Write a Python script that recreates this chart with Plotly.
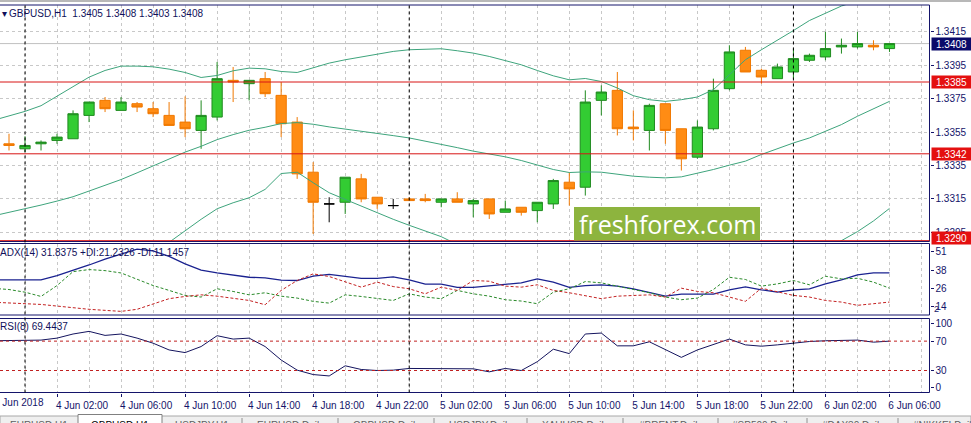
import plotly.graph_objects as go
import pandas as pd

W, H = 971, 423

# hourly bars, GBPUSD H1, 3 Jun 22:00 .. 6 Jun 06:00 (indicators), bars from 23:00
times = pd.date_range("2018-06-03 22:00", periods=57, freq="h")
bar_times = times[1:]

opens = [1.3348, 1.3345, 1.3348, 1.3350, 1.3351, 1.3365, 1.3374, 1.3368, 1.3372, 1.3369,
         1.3365, 1.3361, 1.3356, 1.3364, 1.3386, 1.3384, 1.3387, 1.3377, 1.3361, 1.3331,
         1.3312, 1.3313, 1.3327, 1.3316, 1.3311, 1.3315, 1.3315, 1.3313, 1.3315, 1.3312,
         1.3315, 1.3307, 1.3310, 1.3308, 1.3312, 1.3325, 1.3322, 1.3374, 1.3380, 1.3358,
         1.3356, 1.3372, 1.3357, 1.3340, 1.3357, 1.3381, 1.3404, 1.3392, 1.3387, 1.3391,
         1.3398, 1.3400, 1.3406, 1.3406, 1.3407, 1.3405]
highs = [1.3354, 1.33525, 1.3350, 1.3354, 1.3368, 1.3373, 1.3376, 1.3376, 1.3373, 1.3373,
         1.3373, 1.33764, 1.3374, 1.3397, 1.3394, 1.3386, 1.3391, 1.3385, 1.3364, 1.3337,
         1.3316, 1.3328, 1.3330, 1.3316, 1.3315, 1.3316, 1.3318, 1.3315, 1.3319, 1.3315,
         1.3315, 1.3314, 1.3310, 1.3313, 1.3327, 1.3331, 1.3380, 1.3383, 1.3391, 1.3368,
         1.3372, 1.3372, 1.3357, 1.3362, 1.3387, 1.3407, 1.3406, 1.3393, 1.3396, 1.3405,
         1.3402, 1.3415, 1.3411, 1.3415, 1.3410, 1.3408]
lows = [1.3344, 1.3343, 1.3344, 1.3348, 1.3351, 1.3361, 1.3367, 1.3368, 1.3367, 1.3364,
        1.3359, 1.3352, 1.3345, 1.3362, 1.3373, 1.3374, 1.3376, 1.3352, 1.3327, 1.3294,
        1.3301, 1.3306, 1.3313, 1.3309, 1.3309, 1.3314, 1.3313, 1.3310, 1.3313, 1.3304,
        1.3303, 1.3307, 1.3305, 1.3301, 1.3309, 1.3311, 1.3317, 1.3365, 1.3353, 1.3350,
        1.3344, 1.3348, 1.3332, 1.3339, 1.3356, 1.3380, 1.3391, 1.3384, 1.3387, 1.3387,
        1.3397, 1.3398, 1.3402, 1.3405, 1.3404, 1.3403]
closes = [1.3347, 1.3347, 1.3349, 1.3352, 1.3366, 1.3373, 1.3369, 1.3373, 1.3370, 1.3366,
          1.3359, 1.3357, 1.3365, 1.3387, 1.3385, 1.3386, 1.3378, 1.3360, 1.3330, 1.3313,
          1.3312, 1.3328, 1.3315, 1.3312, 1.3311, 1.3314, 1.3314, 1.3315, 1.3313, 1.3314,
          1.3306, 1.3309, 1.3307, 1.3313, 1.3326, 1.3321, 1.3373, 1.3379, 1.3357, 1.3357,
          1.3371, 1.3356, 1.3339, 1.3358, 1.3380, 1.3403, 1.3391, 1.3388, 1.3394, 1.3399,
          1.3401, 1.3405, 1.3407, 1.3408, 1.3406, 1.3408]

bb_upper = [1.3362, 1.33645, 1.33674, 1.33708, 1.33764, 1.3382, 1.33879, 1.33919, 1.33945, 1.33945,
            1.33941, 1.33927, 1.33907, 1.33877, 1.33889, 1.33917, 1.33933, 1.33929, 1.33913, 1.33907,
            1.33933, 1.33963, 1.33983, 1.33999, 1.34019, 1.34033, 1.34043, 1.34047, 1.34049, 1.34037,
            1.34023, 1.34003, 1.33977, 1.33953, 1.33919, 1.33887, 1.33863, 1.33871, 1.33853, 1.33814,
            1.33768, 1.33744, 1.33734, 1.33744, 1.3376, 1.33804, 1.33893, 1.33983, 1.34043, 1.34098,
            1.34158, 1.34218, 1.34261, 1.34305, 1.34336, 1.34358, 1.34375]
bb_mid = [1.33048, 1.33069, 1.33091, 1.33113, 1.33137, 1.33163, 1.33197, 1.33231, 1.33266, 1.33306,
          1.33346, 1.3339, 1.3343, 1.33465, 1.33505, 1.33535, 1.33561, 1.33579, 1.33601, 1.33607,
          1.33597, 1.33581, 1.33569, 1.33555, 1.33543, 1.33529, 1.33515, 1.33497, 1.33477, 1.33457,
          1.33436, 1.3342, 1.33402, 1.3338, 1.33352, 1.33326, 1.33308, 1.33312, 1.3331, 1.33296,
          1.33286, 1.3328, 1.33276, 1.33282, 1.33302, 1.33326, 1.33352, 1.33376, 1.33416, 1.33451,
          1.33485, 1.33515, 1.33555, 1.33595, 1.33645, 1.33688, 1.33734]
bb_lower = [1.3248, 1.32493, 1.32508, 1.32518, 1.3251, 1.32506, 1.32515, 1.32543, 1.32587, 1.32667,
            1.32751, 1.3289, 1.3296, 1.33028, 1.33091, 1.33127, 1.33157, 1.33207, 1.33302, 1.3331,
            1.33247, 1.33187, 1.33147, 1.33107, 1.33067, 1.33028, 1.32992, 1.32958, 1.32924, 1.32877,
            1.32849, 1.32837, 1.32827, 1.32807, 1.32785, 1.32765, 1.32753, 1.32753, 1.32767, 1.32778,
            1.32804, 1.32816, 1.32818, 1.3282, 1.32844, 1.32848, 1.32811, 1.32769, 1.32789, 1.32804,
            1.32812, 1.32812, 1.32849, 1.3290, 1.32954, 1.33018, 1.33093]

adx = [31.7, 31.7, 31.7, 31.7, 34.6, 38.0, 41.8, 45.8, 49.2, 52.6,
       51.4, 47.6, 42.5, 38.4, 36.4, 34.9, 33.5, 33.1, 31.5, 31.3,
       34.2, 35.5, 34.4, 32.8, 32.8, 33.7, 31.7, 28.8, 28.8, 26.6,
       26.6, 27.5, 28.4, 29.7, 32.4, 30.2, 26.6, 27.9, 28.4, 27.5,
       25.7, 23.4, 20.7, 22.1, 22.1, 22.1, 25.0, 27.0, 25.0, 23.4,
       25.0, 25.7, 29.0, 31.7, 35.1, 36.4, 36.4]
plus_di = [26.0, 25.2, 23.4, 20.5, 27.9, 37.3, 38.7, 38.0, 36.4, 32.4,
           27.9, 24.6, 21.2, 20.1, 25.7, 23.9, 21.6, 23.0, 20.7, 19.4,
           17.2, 16.0, 21.6, 20.5, 19.4, 17.8, 22.3, 20.1, 19.0, 24.6,
           22.3, 20.7, 18.3, 17.4, 15.6, 23.4, 25.7, 30.6, 29.7, 27.5,
           25.2, 23.0, 20.1, 18.3, 19.4, 25.2, 33.5, 32.0, 27.5, 29.0,
           31.3, 28.4, 34.2, 32.4, 32.8, 30.2, 26.1]
minus_di = [16.6, 16.3, 15.6, 15.1, 14.0, 12.7, 11.8, 11.1, 10.4, 11.8,
            15.6, 19.0, 20.5, 21.6, 20.7, 19.4, 17.8, 14.9, 24.6, 31.3,
            35.8, 34.0, 30.6, 26.8, 30.2, 27.2, 25.7, 22.3, 26.8, 24.6,
            31.3, 30.8, 27.5, 26.8, 28.4, 24.6, 23.0, 21.2, 19.0, 20.7,
            21.2, 21.6, 20.1, 26.1, 23.9, 23.0, 20.1, 17.2, 26.1, 23.4,
            21.2, 20.1, 17.8, 16.7, 14.5, 15.6, 16.7]
rsi = [70.5, 70.5, 70.5, 71.4, 74.1, 79.7, 83.3, 77.8, 79.7, 74.1,
       67.2, 58.0, 54.4, 62.6, 77.4, 72.8, 74.1, 62.6, 44.3, 30.5,
       24.5, 22.6, 36.4, 31.4, 30.0, 30.5, 32.8, 32.8, 32.8, 32.8,
       32.3, 28.2, 32.8, 30.0, 42.0, 59.0, 53.0, 79.7, 81.0, 63.6,
       63.6, 69.1, 58.0, 47.9, 58.0, 64.9, 72.8, 64.9, 63.1, 64.9,
       67.2, 69.5, 70.5, 70.5, 71.4, 68.6, 70.0]

price_ticks = [1.3415, 1.3395, 1.3375, 1.3355, 1.3335, 1.3315, 1.3295]
adx_ticks = [51, 38, 26, 14]
rsi_ticks = [93.4, 70, 30, 7.4]
rsi_ticktext = ["100", "70", "30", "0"]
red_levels = [1.3385, 1.3342, 1.3290]
bid = 1.3408
day_starts = ["2018-06-04", "2018-06-05", "2018-06-06"]
tabs = ["EURUSD,H1", "GBPUSD,H1", "USDJPY,H1", "EURUSD,Daily", "GBPUSD,Daily", "USDJPY,Daily",
        "XAUUSD,Daily", "#BRENT,Daily", "#SP500,Daily", "#DAX30,Daily", "#NIKKEI,Daily"]
tab_edges = [0, 78, 162, 242, 338, 434, 527, 623, 718, 807, 898, 990]

NAVY = "#14146A"
GRID = "#C8C8C8"
BAND = "#3EA47C"
RED = "#D81414"
FONT = "Liberation Sans"


def xp(px):
    return px / W


def yp(px):
    return 1 - px / H


doji = [o == c for o, c in zip(opens, closes)]


def pick(vals, keep):
    return [v if k else None for v, k in zip(vals, keep)]


normal = [not d for d in doji]

fig = go.Figure()
for band in (bb_upper, bb_mid, bb_lower):
    fig.add_trace(go.Scatter(x=times, y=band, mode="lines", line=dict(color=BAND, width=1),
                             hoverinfo="skip", showlegend=False))

fig.add_trace(go.Candlestick(
    x=bar_times, open=pick(opens, normal), high=pick(highs, normal),
    low=pick(lows, normal), close=pick(closes, normal),
    increasing=dict(line=dict(color="#1F8A1F", width=1), fillcolor="#33CC33"),
    decreasing=dict(line=dict(color="#F07800", width=1), fillcolor="#FF8C14"),
    whiskerwidth=0, hoverinfo="skip", showlegend=False))
fig.add_trace(go.Candlestick(
    x=bar_times, open=pick(opens, doji), high=pick(highs, doji),
    low=pick(lows, doji), close=pick(closes, doji),
    increasing=dict(line=dict(color="black", width=1), fillcolor="black"),
    decreasing=dict(line=dict(color="black", width=1), fillcolor="black"),
    whiskerwidth=0, hoverinfo="skip", showlegend=False))

fig.add_trace(go.Scatter(x=times, y=adx, yaxis="y2", mode="lines",
                         line=dict(color="#1A2290", width=1.3), hoverinfo="skip", showlegend=False))
fig.add_trace(go.Scatter(x=times, y=plus_di, yaxis="y2", mode="lines",
                         line=dict(color="#2A8A2A", width=1, dash="3px,2px"), hoverinfo="skip", showlegend=False))
fig.add_trace(go.Scatter(x=times, y=minus_di, yaxis="y2", mode="lines",
                         line=dict(color="#C42222", width=1, dash="3px,2px"), hoverinfo="skip", showlegend=False))
fig.add_trace(go.Scatter(x=times, y=rsi, yaxis="y3", mode="lines",
                         line=dict(color="#14145E", width=1), hoverinfo="skip", showlegend=False))

shapes = []
# pane frames (no visible left edge)
for top, bot in [(5, 241.5), (243.5, 315), (318.5, 392.5)]:
    shapes.append(dict(type="rect", xref="paper", yref="paper", x0=-0.01, x1=xp(929.5),
                       y0=yp(bot), y1=yp(top), line=dict(color=NAVY, width=1), layer="above"))
# window top strip
shapes.append(dict(type="rect", xref="paper", yref="paper", x0=0, x1=1, y0=yp(2), y1=1,
                   fillcolor="#B8B8B8", line=dict(width=0)))
# bid line and support/resistance levels
shapes.append(dict(type="line", xref="x domain", yref="y", x0=0, x1=1, y0=bid, y1=bid,
                   line=dict(color="#C0C0C0", width=1), layer="below"))
for lv in red_levels:
    shapes.append(dict(type="line", xref="x domain", yref="y", x0=0, x1=1, y0=lv, y1=lv,
                       line=dict(color=RED, width=1)))
for lv in (70, 30):
    shapes.append(dict(type="line", xref="x domain", yref="y3", x0=0, x1=1, y0=lv, y1=lv,
                       line=dict(color="#C02020", width=1, dash="3px,3px")))
# day separators
for d in day_starts:
    shapes.append(dict(type="line", xref="x", yref="paper", x0=d, x1=d, y0=yp(392.5), y1=yp(5),
                       line=dict(color="black", width=1, dash="3px,3px")))
# watermark box
shapes.append(dict(type="rect", xref="paper", yref="paper", x0=xp(574), x1=xp(760),
                   y0=yp(240.5), y1=yp(207), fillcolor="#8DB43E", line=dict(width=0)))
# tab strip
shapes.append(dict(type="rect", xref="paper", yref="paper", x0=0, x1=1, y0=yp(430), y1=yp(416),
                   fillcolor="#EFEFEF", line=dict(color="#A8A8A8", width=1)))
shapes.append(dict(type="rect", xref="paper", yref="paper", x0=xp(78), x1=xp(162), y0=yp(430),
                   y1=yp(414.5), fillcolor="white", line=dict(color="#808080", width=1)))
for e in tab_edges[3:-1]:
    shapes.append(dict(type="line", xref="paper", yref="paper", x0=xp(e), x1=xp(e), y0=yp(430),
                       y1=yp(418), line=dict(color="#909090", width=1)))

annotations = []
hdr_font = dict(family=FONT, size=10, color="#10105A")
annotations.append(dict(xref="paper", yref="paper", x=xp(0), y=yp(13), text="▾", showarrow=False,
                        xanchor="left", yanchor="middle", font=dict(family=FONT, size=10, color="#10105A")))
annotations.append(dict(xref="paper", yref="paper", x=xp(7), y=yp(13),
                        text="GBPUSD,H1  1.3405 1.3408 1.3403 1.3408", showarrow=False,
                        xanchor="left", yanchor="middle", font=hdr_font))
annotations.append(dict(xref="paper", yref="paper", x=xp(-2), y=yp(252),
                        text="ADX(14) 31.8375 +DI:21.2326 -DI:11.1457", showarrow=False,
                        xanchor="left", yanchor="middle", font=hdr_font))
annotations.append(dict(xref="paper", yref="paper", x=xp(-2), y=yp(326),
                        text="RSI(8) 69.4437", showarrow=False,
                        xanchor="left", yanchor="middle", font=hdr_font))
annotations.append(dict(xref="paper", yref="paper", x=xp(932), y=yp(309), text="2", showarrow=False,
                        xanchor="left", yanchor="middle", font=dict(family=FONT, size=9, color=NAVY)))
annotations.append(dict(xref="paper", yref="paper", x=xp(-8), y=yp(402), text="3 Jun 2018",
                        showarrow=False, xanchor="left", yanchor="middle",
                        font=dict(family=FONT, size=10, color=NAVY)))
# price boxes
for lv, col, shift in [(bid, "#0A0A6A", 0), (1.3385, "#E41010", 0), (1.3342, "#E41010", 0),
                       (1.3290, "#E41010", 2.5)]:
    annotations.append(dict(xref="paper", yref="y", x=xp(931), y=lv, yshift=shift,
                            text=f"{lv:.4f}", showarrow=False, xanchor="left", yanchor="middle",
                            bgcolor=col, borderpad=1, width=37, height=10, align="center",
                            font=dict(family=FONT, size=10, color="white")))
annotations.append(dict(xref="paper", yref="paper", x=xp(667), y=yp(224), text="freshforex.com",
                        showarrow=False, xanchor="center", yanchor="middle",
                        font=dict(family="Open Sans", size=25, color="white")))
for i, t in enumerate(tabs):
    cx = (tab_edges[i] + tab_edges[i + 1]) / 2
    annotations.append(dict(xref="paper", yref="paper", x=xp(cx), y=yp(425), text=t,
                            showarrow=False, xanchor="center", yanchor="middle",
                            font=dict(family=FONT, size=10, color="black" if i == 1 else "#606060")))

HOUR = 3600 * 1000
axis_font = dict(family=FONT, size=10, color=NAVY)
fig.update_layout(
    width=W, height=H, margin=dict(l=0, r=0, t=0, b=0, autoexpand=False),
    paper_bgcolor="white", plot_bgcolor="white",
    showlegend=False, boxgap=0.2, boxgroupgap=0.2,
    xaxis=dict(domain=[0, xp(929.5)], anchor="y3", type="date",
               range=["2018-06-03 22:26:15", "2018-06-06 08:30"],
               tick0="2018-06-04 02:00", dtick=4 * HOUR, tickformat="%-d %b %H:%M",
               ticks="outside", ticklen=3, tickcolor=NAVY, tickfont=axis_font,
               ticklabelshift=25, automargin=False,
               showgrid=True, gridcolor=GRID, griddash="3px,3px", gridwidth=1,
               minor=dict(tick0="2018-06-04 00:00", dtick=2 * HOUR, showgrid=True,
                          gridcolor=GRID, griddash="3px,3px", gridwidth=1),
               rangeslider=dict(visible=False), zeroline=False, showline=False, fixedrange=True),
    yaxis=dict(domain=[yp(241.5), yp(5)], anchor="x", side="right", automargin=False,
               range=[1.32895, 1.34311], tickvals=price_ticks,
               ticktext=[f"{v:.4f}" for v in price_ticks],
               ticks="outside", ticklen=3, tickcolor=NAVY, tickfont=axis_font,
               showgrid=True, gridcolor=GRID, griddash="3px,3px", zeroline=False, fixedrange=True),
    yaxis2=dict(domain=[yp(315), yp(243.5)], anchor="x", side="right", automargin=False,
                range=[7.95, 56.35], tickvals=adx_ticks,
                ticks="outside", ticklen=3, tickcolor=NAVY, tickfont=axis_font,
                showgrid=False, zeroline=False, fixedrange=True),
    yaxis3=dict(domain=[yp(392.5), yp(318.5)], anchor="x", side="right", automargin=False,
                range=[0.07, 100.8], tickvals=rsi_ticks, ticktext=rsi_ticktext,
                ticks="outside", ticklen=3, tickcolor=NAVY, tickfont=axis_font,
                showgrid=False, zeroline=False, fixedrange=True),
    shapes=shapes, annotations=annotations,
)

# the page body has a default 8px margin; drop it so the chart sits at the window origin
fig.write_html("out.html", config={"displayModeBar": False},
               post_script="document.body.style.margin='0';document.body.style.overflow='hidden';")
